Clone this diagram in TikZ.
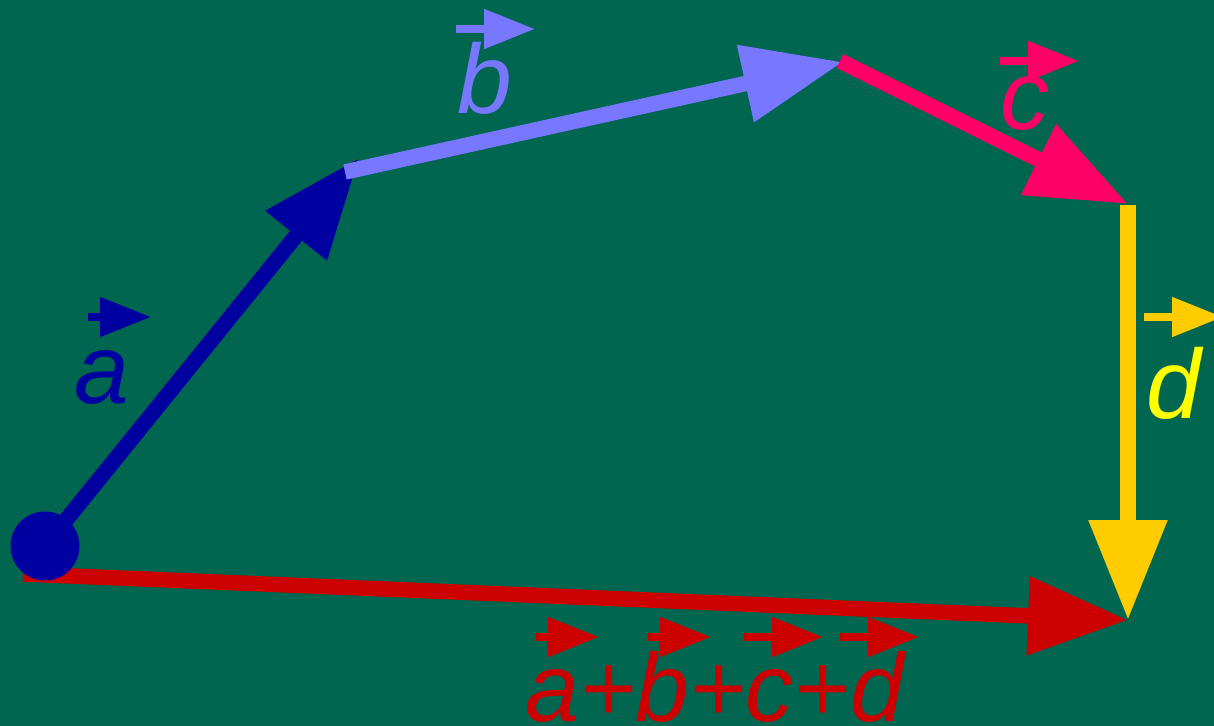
\documentclass[tikz,border=0pt]{standalone}
\usepackage{fontspec}
\setmainfont{Liberation Sans}
\usetikzlibrary{arrows.meta}
\definecolor{board}{HTML}{006650}
\definecolor{veca}{HTML}{0000A0}
\definecolor{vecb}{HTML}{7777FF}
\definecolor{vecc}{HTML}{FF0066}
\definecolor{vecd}{HTML}{FFCC00}
\definecolor{labd}{HTML}{FFFF00}
\definecolor{vecs}{HTML}{CC0000}
\tikzset{
	vec/.style={line width=0.31cm,-{Triangle[length=2cm,width=1.5cm]}},
	hat/.style={line width=0.16cm,-{Triangle[length=1.02cm,width=0.76cm]}},
	lab/.style={inner sep=0pt,anchor=base west,font=\fontsize{56}{60}\selectfont\itshape}
}
\begin{document}
\begin{tikzpicture}[x=0.02cm,y=-0.02cm]
	\useasboundingbox (0,0) rectangle (1214,726);
	\fill[board] (0,0) rectangle (1214,726);
	\clip (0,0) rectangle (1214,726);
	\coordinate (O) at (45,546);
	\coordinate (A) at (359,158);
	\coordinate (B0) at (345,172);
	\coordinate (B) at (843,62);
	\coordinate (C0) at (840,61);
	\coordinate (C) at (1128,204);
	\coordinate (D0) at (1128,205);
	\coordinate (D) at (1128,620);
	\coordinate (S0) at (23,574);
	% sum first, the others on top
	\draw[vec,vecs] (S0) -- (D);
	\fill[veca] (O) circle[radius=0.69cm];
	\draw[vec,veca] (O) -- (A);
	\draw[vec,vecb] (B0) -- (B);
	\draw[vec,vecc] (C0) -- (C);
	\draw[vec,vecd] (D0) -- (D);
	% labels
	\node[lab,text=veca] (la) at (74,403) {a};
	\node[lab,text=vecb] (lb) at (457,114) {b};
	\node[lab,text=vecc] (lc) at (1000,130) {c};
	\node[lab,text=labd] (ld) at (1146,418) {d};
	\node[lab,text=vecs,font=\fontsize{55}{60}\selectfont\itshape] (ls) at (525,721) {a+b+c+d};
	\draw[hat,veca] (88,317) -- (151,317);
	\draw[hat,vecb] (456,29) -- (535,29);
	\draw[hat,vecc] (1000,61) -- (1079,61);
	\draw[hat,vecd] (1144,317) -- (1223,317);
	\foreach \x/\t in {536/599,648/711,744/823,840/919}
		\draw[hat,vecs] (\x,637) -- (\t,637);
\end{tikzpicture}
\end{document}
